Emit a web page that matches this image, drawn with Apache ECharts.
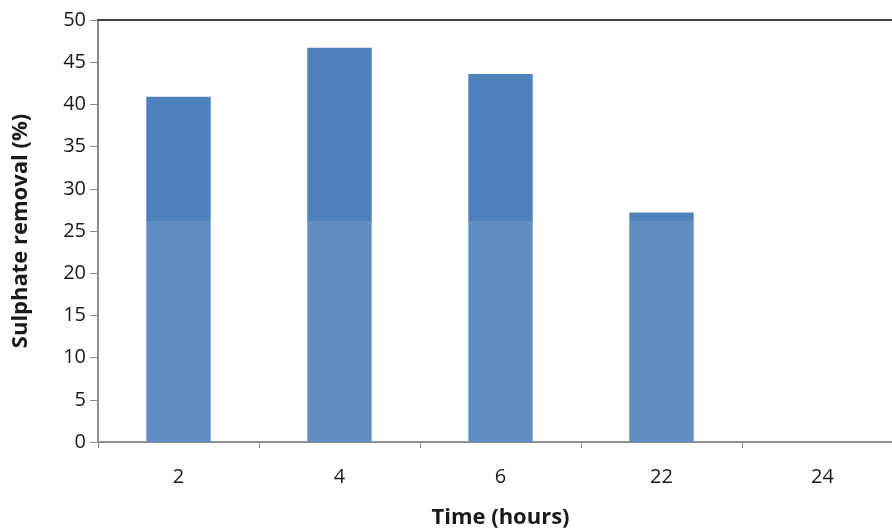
<!DOCTYPE html>
<html>
<head>
<meta charset="utf-8">
<script src="https://cdn.jsdelivr.net/npm/echarts@6/dist/echarts.min.js"></script>
<style>
  html, body { margin: 0; padding: 0; background: #fff; overflow: hidden; }
  #chart { width: 903px; height: 531px; }
</style>
</head>
<body>
<div id="chart"></div>
<script>
const timeLabels = ['2', '4', '6', '22', '24']
const sulphateRemoval = [40.9, 46.7, 43.6, 27.2, 0]
const yTicks = { min: 0, max: 50, interval: 5 }

const chart = echarts.init(document.getElementById('chart'))
const font = '"Open Sans", Lato, sans-serif'

const option = {
  animation: false,
  grid: { left: 98, right: 0, top: 20, bottom: 89, outerBoundsMode: 'none' },
  xAxis: [
    {
      type: 'category',
      data: timeLabels,
      name: 'Time (hours)',
      nameLocation: 'middle',
      nameGap: 65,
      nameTextStyle: { fontFamily: font, fontSize: 22, fontWeight: 'bold', color: '#1a1a1a' },
      axisLine: { lineStyle: { color: '#8a8a8a', width: 2 } },
      axisTick: { show: true, length: 6, lineStyle: { color: '#8a8a8a' } },
      axisLabel: { fontFamily: font, fontSize: 20, color: '#1a1a1a', margin: 25 }
    },
    {
      type: 'category',
      data: timeLabels,
      position: 'top',
      axisLine: { lineStyle: { color: '#000', width: 1.5 } },
      axisTick: { show: false },
      axisLabel: { show: false }
    }
  ],
  yAxis: {
    type: 'value',
    min: yTicks.min,
    max: yTicks.max,
    interval: yTicks.interval,
    name: 'Sulphate removal (%)',
    nameLocation: 'middle',
    nameGap: 66,
    nameTextStyle: { fontFamily: font, fontSize: 22, fontWeight: 'bold', color: '#1a1a1a' },
    axisLine: { show: true, lineStyle: { color: '#8a8a8a', width: 2 } },
    axisTick: { show: true, length: 8, lineStyle: { color: '#8a8a8a' } },
    axisLabel: { fontFamily: font, fontSize: 20, color: '#1a1a1a', margin: 12 },
    splitLine: { show: false }
  },
  series: [
    {
      type: 'bar',
      data: sulphateRemoval,
      barWidth: '40%',
      itemStyle: { color: '#4f81bd' }
    }
  ],
  graphic: [
    {
      type: 'rect',
      silent: true,
      shape: { x: 98, y: 221, width: 805, height: 221 },
      style: { fill: 'rgba(255,255,255,0.1)' },
      z: 100
    }
  ]
}

chart.setOption(option)
</script>
</body>
</html>
